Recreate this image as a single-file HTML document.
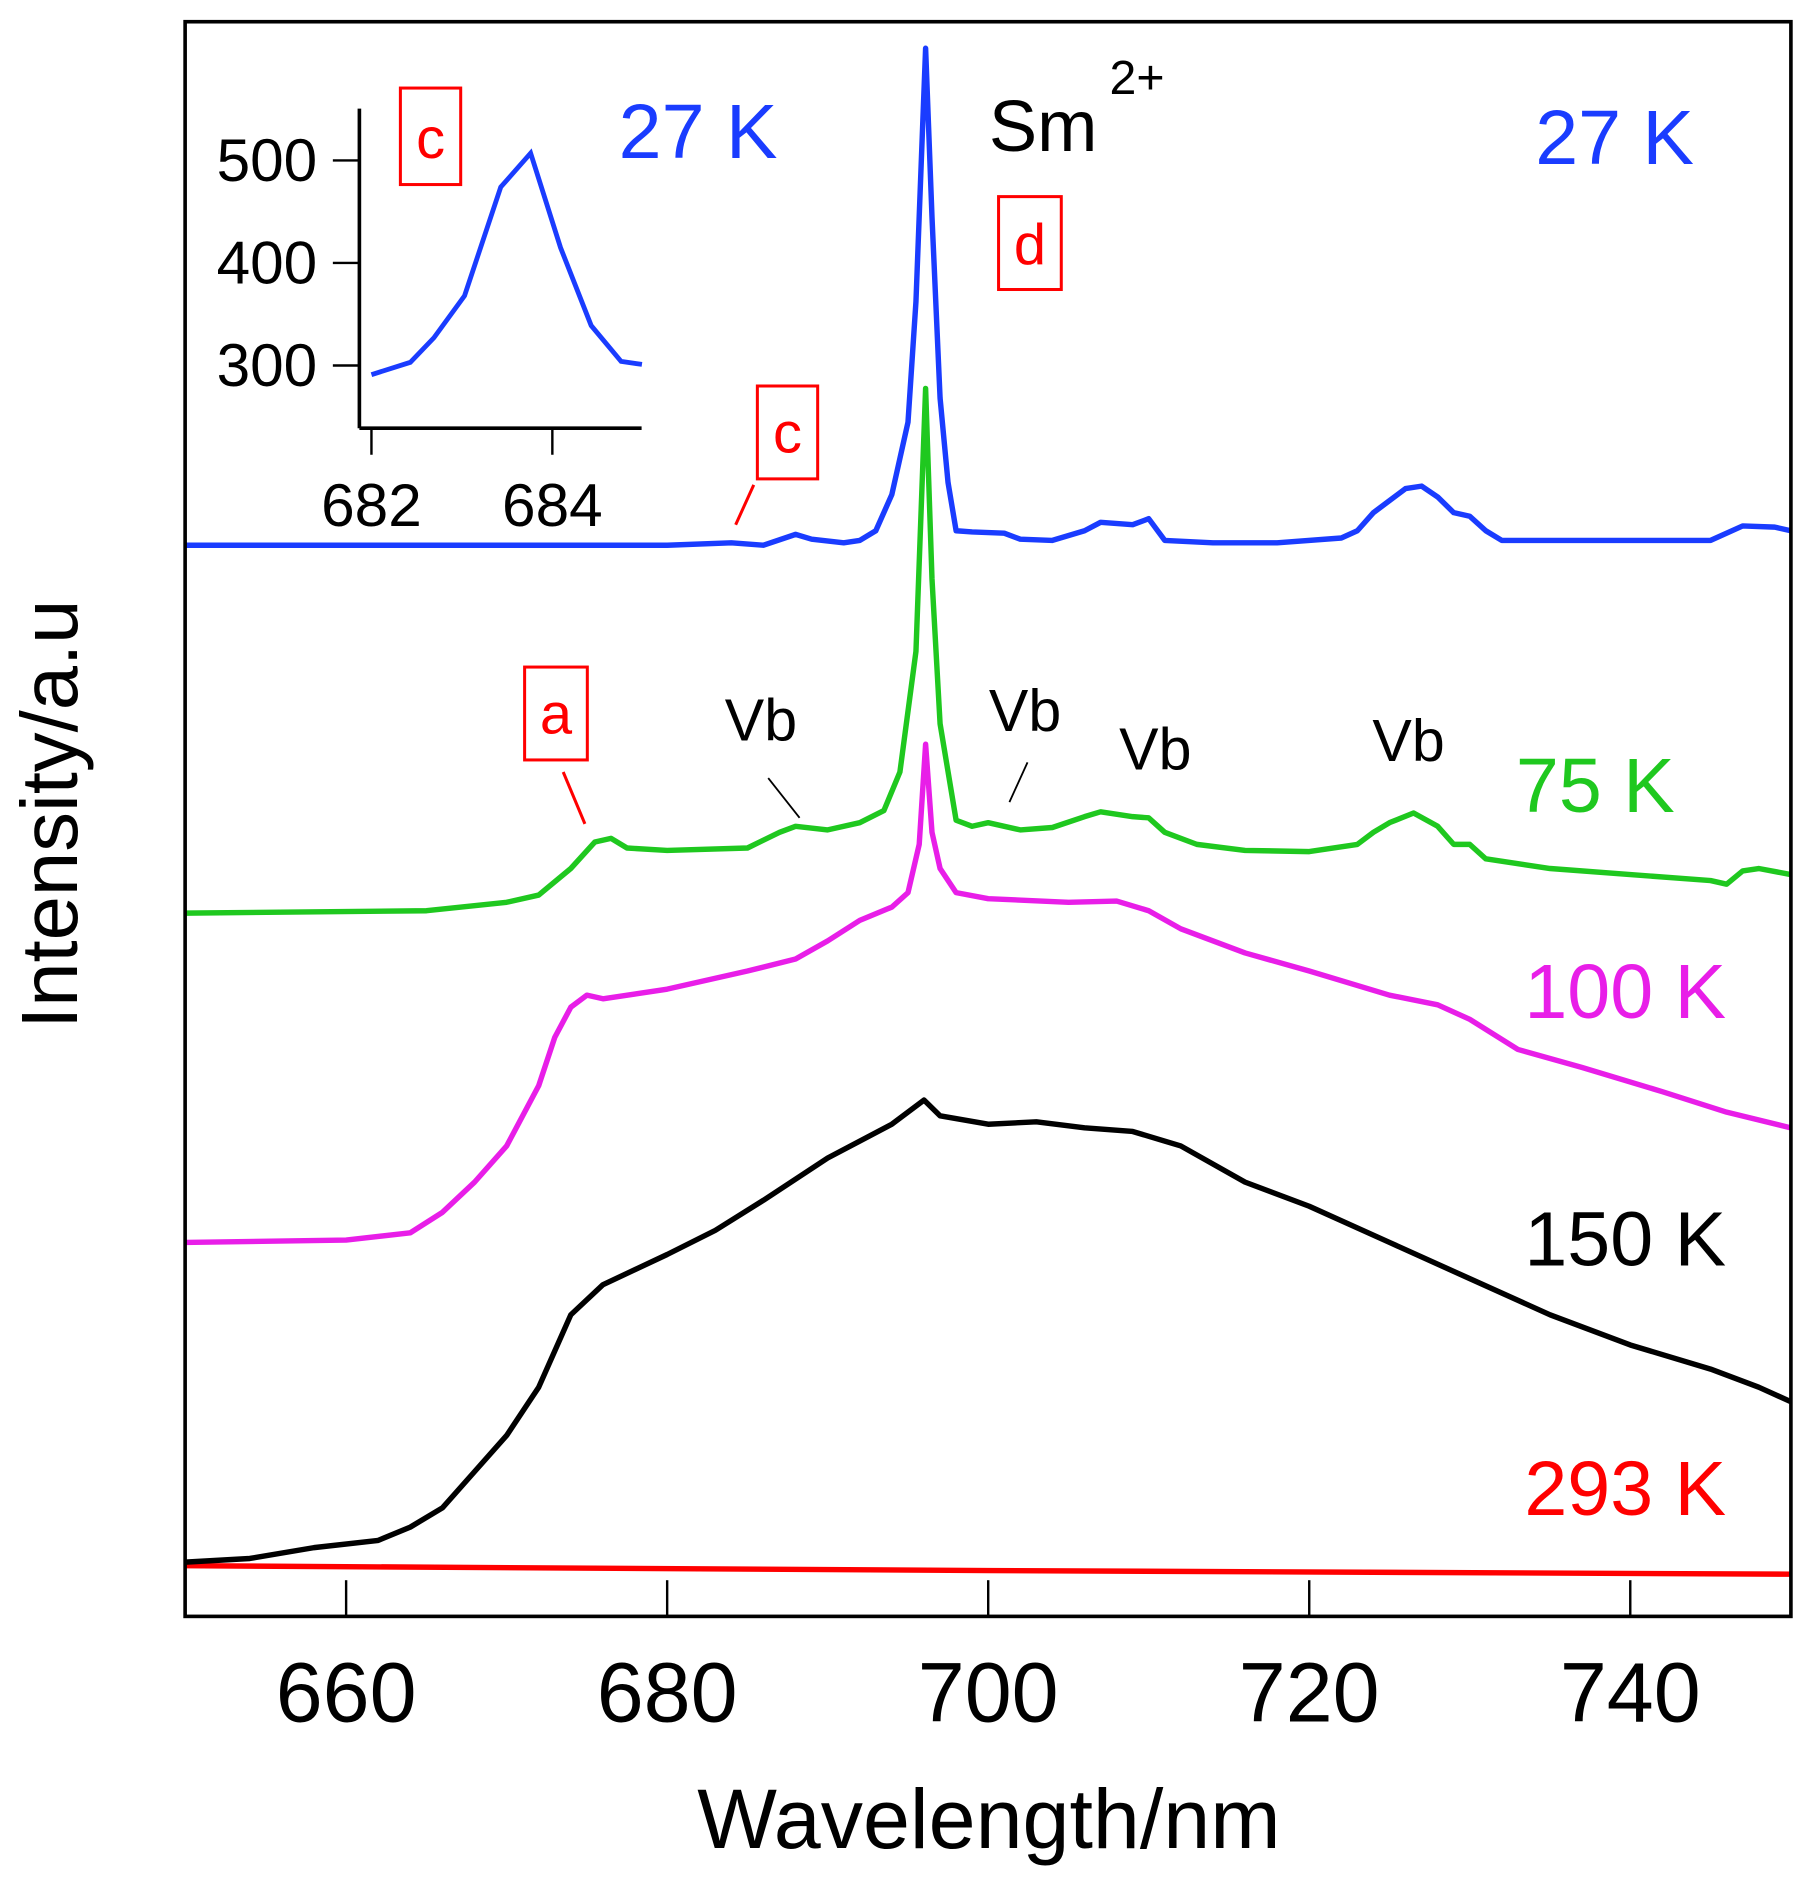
<!DOCTYPE html>
<html><head><meta charset="utf-8"><style>
html,body{margin:0;padding:0;background:#fff;}
svg{display:block;font-family:"Liberation Sans",Arial,sans-serif;}
</style></head><body>
<svg id="chart" width="1809" height="1889" viewBox="0 0 1500 1566" preserveAspectRatio="none" xmlns="http://www.w3.org/2000/svg">
<rect x="0" y="0" width="1500" height="1566" fill="#fff"/>
<g id="series"></g>
<rect x="153.5" y="18" width="1331.5" height="1322" fill="none" stroke="#000" stroke-width="3"/>
<g id="xticks"></g>
<text x="820" y="1532" font-size="70" text-anchor="middle">Wavelength/nm</text>
<text transform="translate(64,675) rotate(-90)" font-size="66" text-anchor="middle">Intensity/a.u</text>
<g id="inset"></g>
<g font-size="64">
<text x="513" y="131" fill="#1a3cff">27 K</text>
<text x="1273" y="136" fill="#1a3cff">27 K</text>
<text x="820" y="125" font-size="60">Sm</text>
<text x="920" y="78" font-size="40">2+</text>
<text x="1257" y="673" fill="#1fc81f">75 K</text>
<text x="1264" y="844" fill="#e81ee8">100 K</text>
<text x="1264" y="1049" fill="#000">150 K</text>
<text x="1264" y="1256" fill="#ff0000">293 K</text>
<g fill="none" stroke="#ff0000" stroke-width="2.5">
<rect x="332" y="73" width="50" height="80" fill="#fff"/>
<rect x="828" y="163" width="52" height="77" fill="#fff"/>
<rect x="628" y="320" width="50" height="77" fill="#fff"/>
<rect x="435" y="553" width="52" height="77" fill="#fff"/>
<line x1="625" y1="402" x2="610" y2="435"/>
<line x1="467" y1="640" x2="485" y2="683"/>
</g>
<g font-size="48" fill="#ff0000">
<text x="357" y="131" text-anchor="middle">c</text>
<text x="854" y="219" text-anchor="middle">d</text>
<text x="653" y="375" text-anchor="middle">c</text>
<text x="461" y="608" text-anchor="middle">a</text>
</g>
<g font-size="49">
<text x="601" y="614">Vb</text>
<text x="820" y="606">Vb</text>
<text x="928" y="638">Vb</text>
<text x="1138" y="631">Vb</text>
</g>
<g stroke="#000" stroke-width="1.5">
<line x1="637" y1="645" x2="663" y2="678"/>
<line x1="852" y1="632" x2="837" y2="665"/>
</g>
</g>
</svg>
<script>
// main chart data (wavelength nm, intensity arbitrary units)
const blueX=[650,680,684,686,688,689,691,692,693,694,695,695.5,696.1,696.5,697,697.5,698,699,701,702,704,706,707,709,710,711,714,718,722,723,724,725,726,727,728,729,730,731,732,740,745,747,749,750];
const blueY=[888,888,890,888,897,893,890,892,900,930,990,1090,1300,1160,1010,940,900,899,898,893,892,900,907,905,910,892,890,890,894,900,915,925,935,937,928,915,912,900,892,892,892,904,903,900];
const greenX=[650,665,670,672,674,675.5,676.5,677.5,680,685,687,688,690,692,693.5,694.5,695.5,696.1,696.5,697,698,699,700,702,704,706,707,709,710,711,713,716,720,723,724,725,726.5,728,729,730,731,735,740,745,746,747,748,750];
const greenY=[583,585,592,598,620,642,645,637,635,637,650,655,652,658,668,700,800,1018,860,740,660,655,658,652,654,663,667,663,662,650,640,635,634,640,650,658,666,655,640,640,628,620,615,610,607,618,620,615];
const magX=[650,660,664,666,668,670,672,673,674,675,676,680,685,688,690,692,694,695,695.7,696.1,696.5,697,698,700,705,708,710,712,716,720,725,728,730,733,737,742,746,750];
const magY=[310,312,318,335,360,390,440,480,505,515,512,520,535,545,560,577,588,600,640,723,650,620,600,595,592,593,585,570,550,535,515,507,495,470,455,435,418,405];
const blackX=[650,654,658,662,664,666,668,670,672,673,674,676,680,683,686,690,694,696,697,700,703,706,709,712,716,720,725,730,735,740,745,748,750];
const blackY=[45,48,57,63,74,90,120,150,190,220,250,275,300,320,345,380,408,428,415,408,410,405,402,390,360,340,310,280,250,225,205,190,178];
const redX=[650,700,750];
const redY=[42,38,35];
// inset data
const insetX=[682.0,682.43,682.69,683.03,683.43,683.76,684.09,684.43,684.76,684.99];
const insetY=[291,303,327,368,474,507,415,339,304,301];
const xTicks=[660,680,700,720,740];
const insetYTicks=[300,400,500];
const insetXTicks=[682,684];

const NS='http://www.w3.org/2000/svg';
const X=v=>153.9+(v-650)*13.31;
const Y=v=>1340-v;
const IX=v=>308+(v-682)*75;
const IY=v=>133+(500-v)*0.85;
function mk(tag,attrs,parent){const e=document.createElementNS(NS,tag);for(const k in attrs)e.setAttribute(k,attrs[k]);parent.appendChild(e);return e;}
const sg=document.getElementById('series');
const series=[['series-293k',redX,redY,'#ff0000'],['series-150k',blackX,blackY,'#000'],['series-100k',magX,magY,'#e81ee8'],['series-75k',greenX,greenY,'#1fc81f'],['series-27k',blueX,blueY,'#1a3cff']];
series.forEach(s=>{
  const d=s[1].map((x,i)=>(i?'L':'M')+X(x).toFixed(1)+' '+Y(s[2][i]).toFixed(1)).join(' ');
  const p=mk('path',{d:d,fill:'none',stroke:s[3],'stroke-width':4.5,'stroke-linejoin':'round'},sg);
  
  
});
const xt=document.getElementById('xticks');
xTicks.forEach(t=>{
  const l=mk('line',{x1:X(t),x2:X(t),y1:1340,y2:1310,stroke:'#000','stroke-width':2},xt);
  
  
  const tx=mk('text',{x:X(t),y:1427,'font-size':70,'text-anchor':'middle'},xt);
  tx.textContent=t;
  
  
});
const ig=document.getElementById('inset');
mk('line',{x1:298,x2:298,y1:90,y2:355,stroke:'#000','stroke-width':3},ig);
mk('line',{x1:298,x2:532,y1:355,y2:355,stroke:'#000','stroke-width':3},ig);
insetYTicks.forEach(t=>{
  mk('line',{x1:276,x2:298,y1:IY(t),y2:IY(t),stroke:'#000','stroke-width':2},ig);
  const tx=mk('text',{x:263,y:IY(t)+17,'font-size':50,'text-anchor':'end'},ig);
  tx.textContent=t;
  
  
});
insetXTicks.forEach(t=>{
  mk('line',{x1:IX(t),x2:IX(t),y1:355,y2:377,stroke:'#000','stroke-width':2},ig);
  const tx=mk('text',{x:IX(t),y:436,'font-size':50,'text-anchor':'middle'},ig);
  tx.textContent=t;
  
  
});
const ip=mk('path',{d:insetX.map((x,i)=>(i?'L':'M')+IX(x).toFixed(1)+' '+IY(insetY[i]).toFixed(1)).join(' '),fill:'none',stroke:'#1a3cff','stroke-width':4},ig);


</script>
</body></html>
